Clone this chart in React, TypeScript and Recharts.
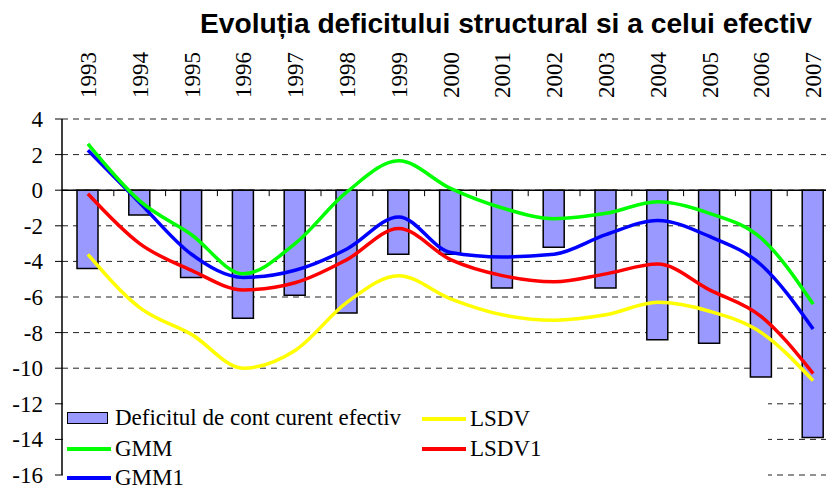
import React from 'react';
import {
  ComposedChart,
  Bar,
  Line,
  XAxis,
  YAxis,
  CartesianGrid,
  ReferenceLine,
} from 'recharts';

// ============================================================================
// Data
// ============================================================================

const years = ['1993', '1994', '1995', '1996', '1997', '1998', '1999', '2000', '2001', '2002', '2003', '2004', '2005', '2006', '2007'];

// Deficitul de cont curent efectiv (bars)
const deficit = [-4.4, -1.4, -4.9, -7.2, -5.9, -6.9, -3.6, -3.6, -5.5, -3.2, -5.5, -8.4, -8.6, -10.5, -13.9];

const gmm = [2.6, -0.6, -2.5, -4.7, -3.0, -0.1, 1.65, 0.1, -1.0, -1.6, -1.3, -0.65, -1.3, -2.7, -6.4];
const gmm1 = [2.25, -0.7, -3.6, -4.9, -4.5, -3.3, -1.5, -3.5, -3.75, -3.6, -2.5, -1.7, -2.6, -4.2, -7.8];
const lsdv = [-3.6, -6.6, -8.1, -10.0, -9.0, -6.3, -4.8, -6.1, -7.0, -7.3, -7.0, -6.3, -6.8, -8.0, -10.7];
const lsdv1 = [-0.2, -3.0, -4.5, -5.6, -5.2, -3.9, -2.15, -3.9, -4.8, -5.15, -4.7, -4.15, -5.6, -7.1, -10.3];

const yTicks = [-16, -14, -12, -10, -8, -6, -4, -2, 0, 2, 4];

const TITLE = 'Evoluția deficitului structural si a celui efectiv';

// ============================================================================
// Styles
// ============================================================================

const SERIF = '"Liberation Serif", "Times New Roman", serif';
const SANS = '"Liberation Sans", Arial, sans-serif';

const BAR_FILL = '#9999ff';
const GREEN = '#00ff00';
const BLUE = '#0000ff';
const RED = '#ff0000';
const YELLOW = '#ffff00';

const chartData = years.map((year, i) => ({
  year,
  deficit: deficit[i],
  gmm: gmm[i],
  gmm1: gmm1[i],
  lsdv: lsdv[i],
  lsdv1: lsdv1[i],
}));

// ============================================================================
// Custom pieces
// ============================================================================

// eslint-disable-next-line @typescript-eslint/no-explicit-any
const YearTick = (props: any) => {
  const { x, y, payload } = props;
  return (
    <text
      transform={`translate(${x + 8},${y}) rotate(-90)`}
      textAnchor="start"
      style={{ fontFamily: SERIF, fontSize: 23 }}
      fill="#000"
    >
      {payload.value}
    </text>
  );
};

// eslint-disable-next-line @typescript-eslint/no-explicit-any
const ValueTick = (props: any) => {
  const { x, y, payload } = props;
  return (
    <text x={x} y={y} dy={8} textAnchor="end" style={{ fontFamily: SERIF, fontSize: 23 }} fill="#000">
      {payload.value}
    </text>
  );
};

// zero line with small tick marks between categories
// eslint-disable-next-line @typescript-eslint/no-explicit-any
const ZeroAxis = (props: any) => {
  const { x1, y1, x2, y2 } = props;
  if (x1 == null) return null;
  const step = (x2 - x1) / years.length;
  return (
    <g>
      <line x1={x1} y1={y1} x2={x2} y2={y2} stroke="#000" strokeWidth={1.5} />
      {years.slice(1).map((_, i) => (
        <line
          key={i}
          x1={x1 + step * (i + 1)}
          x2={x1 + step * (i + 1)}
          y1={y1}
          y2={y1 + 6}
          stroke="#000"
          strokeWidth={1}
        />
      ))}
    </g>
  );
};

const legendText: React.CSSProperties = {
  fontFamily: SERIF,
  fontSize: 23,
  lineHeight: '24px',
  color: '#000',
  whiteSpace: 'nowrap',
};

function LegendItem({ left, top, color, bar, label }: { left: number; top: number; color: string; bar?: boolean; label: string }) {
  return (
    <div style={{ position: 'absolute', left, top, height: 24, display: 'flex', alignItems: 'center' }}>
      {bar ? (
        <div style={{ width: 41, height: 12, background: BAR_FILL, border: '1.5px solid #000', boxSizing: 'border-box', marginRight: 7 }} />
      ) : (
        <div style={{ width: 44, height: 4, background: color, marginRight: 4 }} />
      )}
      <span style={legendText}>{label}</span>
    </div>
  );
}

// ============================================================================
// Component
// ============================================================================

export default function App() {
  return (
    <div style={{ position: 'relative', width: 826, height: 485, overflow: 'hidden', background: '#fff' }}>
      <style>{'body{margin:0;overflow:hidden}'}</style>
      <svg width={826} height={40} style={{ position: 'absolute', left: 0, top: 0 }}>
        <text
          x={812}
          y={33}
          textAnchor="end"
          textLength={612}
          lengthAdjust="spacingAndGlyphs"
          fontFamily={SANS}
          fontWeight="bold"
          fontSize={27}
          fill="#000"
        >
          {TITLE}
        </text>
      </svg>
      <ComposedChart
        width={845}
        height={485}
        data={chartData}
        margin={{ top: 19, right: 6, left: 0, bottom: 10 }}
        barSize={21}
      >
        <CartesianGrid vertical={false} stroke="#222" strokeDasharray="6 5" />
        <XAxis
          dataKey="year"
          orientation="top"
          height={100}
          axisLine={false}
          tickLine={false}
          tickSize={0}
          tickMargin={21}
          interval={0}
          tick={<YearTick />}
        />
        <YAxis
          domain={[-16, 4]}
          ticks={yTicks}
          interval={0}
          width={62}
          axisLine={{ stroke: '#000', strokeWidth: 1.5 }}
          tickLine={{ stroke: '#000' }}
          tickSize={7}
          tickMargin={12}
          tick={<ValueTick />}
        />
        <Bar dataKey="deficit" fill={BAR_FILL} stroke="#000" strokeWidth={1.5} isAnimationActive={false} />
        <ReferenceLine y={0} shape={<ZeroAxis />} />
        <Line type="monotone" dataKey="lsdv" stroke={YELLOW} strokeWidth={3.5} dot={false} isAnimationActive={false} />
        <Line type="monotone" dataKey="lsdv1" stroke={RED} strokeWidth={3.5} dot={false} isAnimationActive={false} />
        <Line type="monotone" dataKey="gmm1" stroke={BLUE} strokeWidth={3.5} dot={false} isAnimationActive={false} />
        <Line type="monotone" dataKey="gmm" stroke={GREEN} strokeWidth={3.5} dot={false} isAnimationActive={false} />
      </ComposedChart>

      {/* legend box, drawn over the lower gridlines like the original */}
      <div style={{ position: 'absolute', left: 63, top: 398, width: 705, height: 87, background: '#fff' }}>
        <LegendItem left={4} top={8} color={BAR_FILL} bar label="Deficitul de cont curent efectiv" />
        <LegendItem left={4} top={39} color={GREEN} label="GMM" />
        <LegendItem left={4} top={68} color={BLUE} label="GMM1" />
        <LegendItem left={359} top={9} color={YELLOW} label="LSDV" />
        <LegendItem left={359} top={39} color={RED} label="LSDV1" />
      </div>
    </div>
  );
}
